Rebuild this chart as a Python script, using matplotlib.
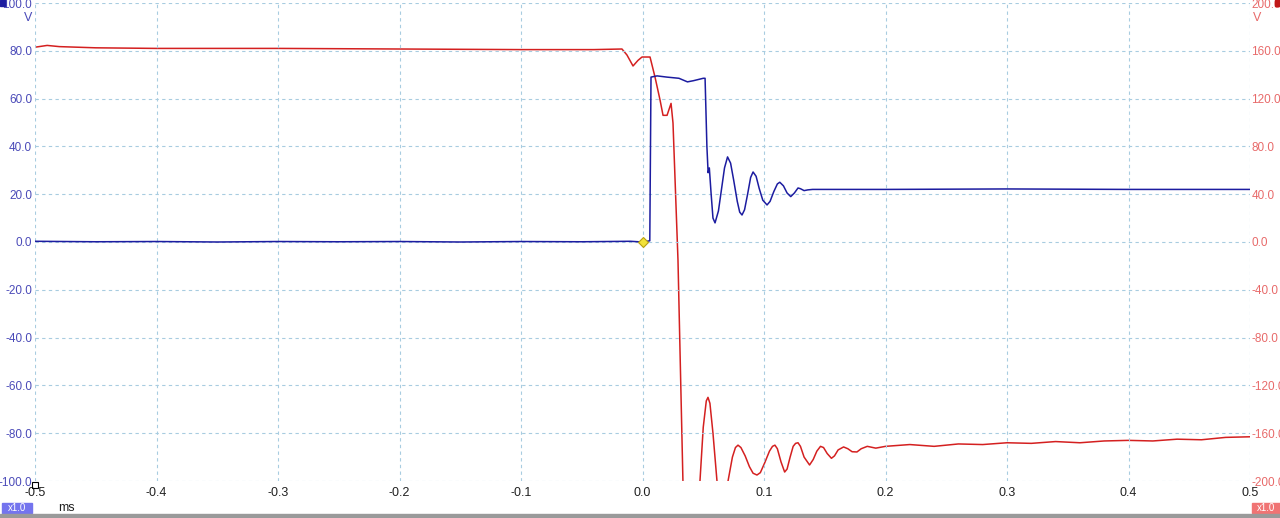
import matplotlib
matplotlib.use("Agg")
import matplotlib.pyplot as plt
from matplotlib.patches import Rectangle

plt.rcParams["font.family"] = ["Liberation Sans", "DejaVu Sans"]

# channel A (blue, left axis, V)
t_a = [-0.5, -0.45, -0.4, -0.35, -0.3, -0.25, -0.2, -0.15, -0.1, -0.05, -0.01,
       0.0, 0.006, 0.007, 0.012, 0.02, 0.03, 0.037, 0.042, 0.05, 0.0515,
       0.053, 0.054, 0.055, 0.0565, 0.058, 0.0597, 0.0625, 0.065, 0.0675, 0.070,
       0.0725, 0.075, 0.078, 0.080, 0.0819, 0.084, 0.0865, 0.089, 0.091,
       0.0935, 0.096, 0.099, 0.1025, 0.105, 0.108, 0.111, 0.113,
       0.116, 0.119, 0.122, 0.125, 0.128, 0.130, 0.133, 0.136, 0.14,
       0.2, 0.3, 0.4, 0.5]
v_a = [0.3, 0.1, 0.2, 0.0, 0.2, 0.1, 0.2, 0.0, 0.2, 0.1, 0.3,
       0.0, 0.5, 69.0, 69.5, 69.0, 68.5, 67.0, 67.5, 68.5, 68.5,
       40.0, 29.0, 31.0, 20.0, 10.0, 8.0, 13.0, 22.0, 31.0, 35.6,
       33.0, 26.0, 17.0, 12.5, 11.3, 13.5, 20.0, 27.0, 29.3,
       27.5, 22.5, 17.5, 15.5, 17.0, 21.0, 24.3, 25.0,
       23.5, 20.5, 19.0, 20.5, 22.6, 22.3, 21.5, 21.8, 22.0,
       22.0, 22.2, 22.0, 22.0]

# channel B (red, right axis, V)
t_b = [-0.5, -0.49, -0.48, -0.45, -0.4, -0.3, -0.2, -0.1, -0.04, -0.0169,
       -0.0128, -0.0078, -0.0037, -0.0004, 0.0062, 0.0103, 0.0144, 0.0169,
       0.0202, 0.0235, 0.0251, 0.0292, 0.0333, 0.038, 0.042, 0.045, 0.0473,
       0.050, 0.0525, 0.0539, 0.0555, 0.058, 0.0613, 0.064, 0.067, 0.0704,
       0.074, 0.0765, 0.0786, 0.081, 0.0845, 0.088, 0.091, 0.0942, 0.097,
       0.1005, 0.1045, 0.107, 0.109, 0.111, 0.114, 0.117, 0.119, 0.1215,
       0.124, 0.126, 0.128, 0.130, 0.133, 0.1375, 0.1405, 0.1435, 0.1465,
       0.149, 0.152, 0.1555, 0.158, 0.161, 0.1655, 0.169, 0.1725, 0.1765,
       0.18, 0.185, 0.192, 0.2, 0.22, 0.24, 0.26, 0.28, 0.3,
       0.32, 0.34, 0.36, 0.38, 0.4, 0.42, 0.44, 0.46, 0.48, 0.5]
v_b = [163.0, 164.5, 163.5, 162.5, 162.0, 162.0, 161.5, 161.0, 161.0, 161.5,
       156.5, 147.3, 152.0, 154.8, 154.8, 138.0, 119.0, 106.0,
       106.0, 116.0, 99.6, -15.0, -201.0, -250.0, -260.0, -240.0, -200.0,
       -155.0, -133.0, -130.0, -135.0, -160.0, -200.0, -230.0, -225.0, -200.0,
       -180.0, -172.0, -170.0, -172.0, -179.0, -188.0, -193.5, -195.0, -193.0,
       -185.0, -175.0, -171.0, -170.0, -173.0, -184.0, -192.5, -190.0, -180.0,
       -171.0, -168.5, -168.0, -171.0, -180.0, -186.6, -182.0, -175.0, -171.0,
       -172.0, -177.0, -181.0, -179.0, -174.0, -171.5, -173.0, -175.5, -175.7,
       -173.0, -171.0, -172.5, -171.0, -169.5, -171.0, -169.0, -169.5, -168.0,
       -168.5, -167.0, -168.0, -166.5, -166.0, -166.5, -165.0, -165.5, -163.5, -163.0]

x_ticks = [-0.5, -0.4, -0.3, -0.2, -0.1, 0.0, 0.1, 0.2, 0.3, 0.4, 0.5]
x_labels = ["-0.5", "-0.4", "-0.3", "-0.2", "-0.1", "0.0", "0.1", "0.2", "0.3", "0.4", "0.5"]
ya_ticks = [-100, -80, -60, -40, -20, 0, 20, 40, 60, 80, 100]
yb_ticks = [-200, -160, -120, -80, -40, 0, 40, 80, 120, 160, 200]

BLUE = "#1c1ca0"
RED = "#d42020"
BLUE_TXT = "#4a4ab8"
RED_TXT = "#e86a6a"

fig = plt.figure(figsize=(12.8, 5.18), dpi=100)
ax = fig.add_axes([35 / 1280, 37 / 518, 1215 / 1280, 478 / 518])
ax2 = ax.twinx()

ax.set_xlim(-0.5, 0.5)
ax.set_ylim(-100, 100)
ax2.set_ylim(-200, 200)

for a in (ax, ax2):
    for s in a.spines.values():
        s.set_visible(False)

ax.set_xticks(x_ticks, x_labels)
ax.set_yticks(ya_ticks, [f"{v:.1f}" for v in ya_ticks])
ax2.set_yticks(yb_ticks, [f"{v:.1f}" for v in yb_ticks])
ax.tick_params(axis="x", length=0, pad=4, labelsize=9, labelcolor="#202020")
ax.tick_params(axis="y", length=0, pad=2, labelsize=8.5, labelcolor=BLUE_TXT)
ax2.tick_params(axis="y", length=0, pad=1, labelsize=8.5, labelcolor=RED_TXT)

ax.grid(True, color="#a8cce0", linestyle=(0, (3, 3)), linewidth=0.8)
ax.set_axisbelow(True)

ax2.plot(t_b, v_b, color=RED, lw=1.1, zorder=3)
ax.plot(t_a, v_a, color=BLUE, lw=1.1, zorder=4)
ax.set_zorder(ax2.get_zorder() + 1)
ax.patch.set_visible(False)
ax.plot([0.0], [0.0], marker="D", ms=5.5, color="#f2e23a", mec="#b8a010",
        mew=0.8, zorder=6, clip_on=False)

# unit labels and range boxes
fig.text(28 / 1280, 1 - 18 / 518, "V", color=BLUE_TXT, fontsize=9, ha="center", va="center")
fig.text(1257 / 1280, 1 - 18 / 518, "V", color=RED_TXT, fontsize=9, ha="center", va="center")
fig.text(58 / 1280, 1 - 508 / 518, "ms", color="#202020", fontsize=9, ha="left", va="center")

fig.patches.append(Rectangle((2 / 1280, 1 - 513 / 518), 30 / 1280, 10 / 518,
                             transform=fig.transFigure, color="#7474ee"))
fig.text(17 / 1280, 1 - 508 / 518, "x1.0", color="white", fontsize=7, ha="center", va="center")
fig.patches.append(Rectangle((1252 / 1280, 1 - 513 / 518), 28 / 1280, 10 / 518,
                             transform=fig.transFigure, color="#f07474"))
fig.text(1266 / 1280, 1 - 508 / 518, "x1.0", color="white", fontsize=7, ha="center", va="center")
fig.patches.append(Rectangle((0, 0), 1, 4 / 518, transform=fig.transFigure, color="#9a9a9a"))
fig.patches.append(Rectangle((0, 1 - 6 / 518), 5 / 1280, 6 / 518,
                             transform=fig.transFigure, color="#1c1ca0"))
fig.patches.append(Rectangle((1275 / 1280, 1 - 6 / 518), 5 / 1280, 6 / 518,
                             transform=fig.transFigure, color="#c01818"))
fig.patches.append(Rectangle((32 / 1280, 1 - 488 / 518), 6 / 1280, 6 / 518,
                             transform=fig.transFigure, fill=False, ec="black", lw=0.8))

fig.savefig("out.png", dpi=100, facecolor="white")
